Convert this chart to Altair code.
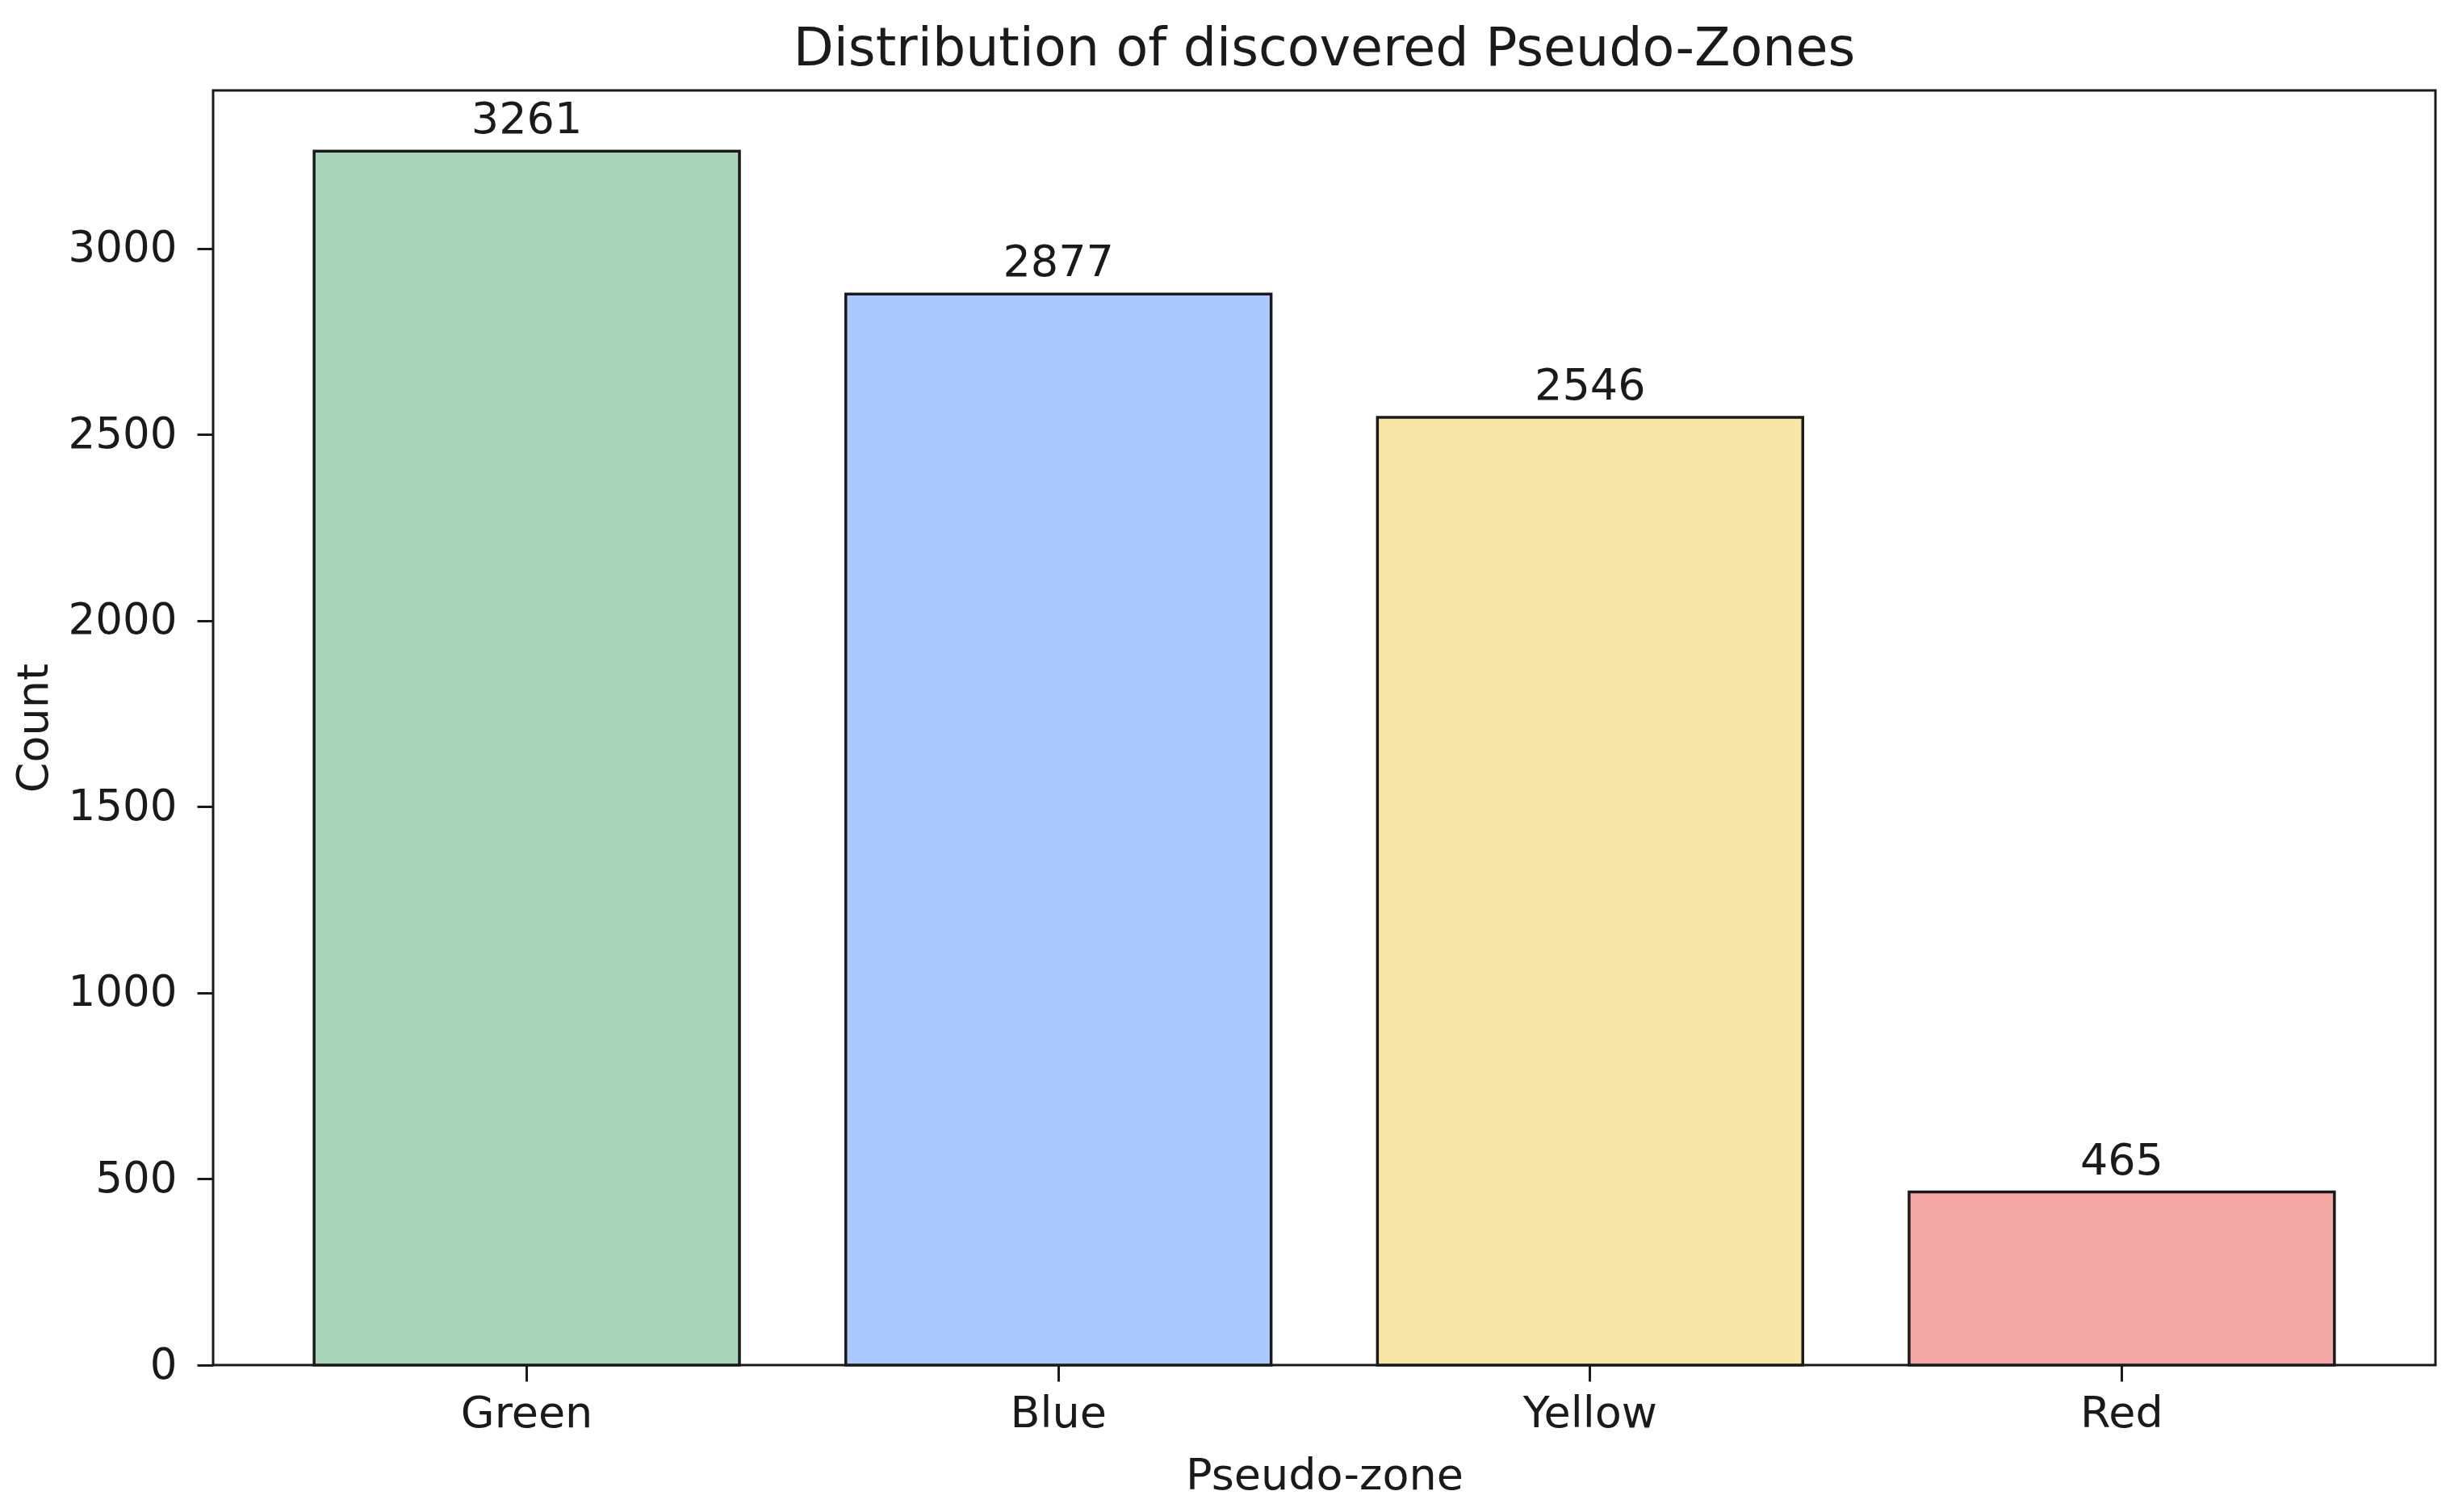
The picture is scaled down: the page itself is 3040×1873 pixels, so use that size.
import altair as alt
import pandas as pd

zones = ["Green", "Blue", "Yellow", "Red"]
counts = [3261, 2877, 2546, 465]
colors = ["#a8d5b9", "#abc8ff", "#f7e6a8", "#f2a6a6"]
y_ticks = [0, 500, 1000, 1500, 2000, 2500, 3000]

df = pd.DataFrame({"zone": zones, "count": counts, "color": colors})

FONT = "DejaVu Sans"
W, H = 2753, 1579

x_enc = alt.X(
    "zone:N",
    sort=zones,
    scale=alt.Scale(paddingInner=0.2, paddingOuter=0.19),
    axis=alt.Axis(
        title="Pseudo-zone",
        labelAngle=0,
        labelFont=FONT,
        labelFontSize=54,
        labelColor="#1a1a1a",
        labelBaseline="alphabetic",
        labelPadding=56,
        tickSize=20,
        tickWidth=3,
        tickColor="#1a1a1a",
        domain=False,
        grid=False,
        titleFont=FONT,
        titleFontSize=54,
        titleFontWeight="normal",
        titleColor="#1a1a1a",
        titleBaseline="alphabetic",
        titleAlign="center",
        titleX=W / 2,
        titleY=153,
    ),
)

y_enc = alt.Y(
    "count:Q",
    scale=alt.Scale(domain=[0, 3424], nice=False),
    axis=alt.Axis(
        title="Count",
        values=y_ticks,
        format="d",
        labelFont=FONT,
        labelFontSize=53,
        labelColor="#1a1a1a",
        labelPadding=25,
        tickSize=20,
        tickWidth=3,
        tickColor="#1a1a1a",
        domain=False,
        grid=False,
        titleFont=FONT,
        titleFontSize=54,
        titleFontWeight="normal",
        titleColor="#1a1a1a",
        titleAngle=270,
        titleBaseline="alphabetic",
        titleAlign="center",
        titleX=-206,
        titleY=H / 2,
    ),
)

bars = alt.Chart(df).mark_bar(
    stroke="#1a1a1a", strokeWidth=3.5
).encode(
    x=x_enc,
    y=y_enc,
    color=alt.Color("color:N", scale=None),
)

labels = alt.Chart(df).mark_text(
    font=FONT, fontSize=54, color="#1a1a1a", baseline="alphabetic", dy=-22
).encode(
    x=alt.X("zone:N", sort=zones),
    y=alt.Y("count:Q"),
    text=alt.Text("count:Q", format="d"),
)

chart = alt.layer(bars, labels).properties(
    width=W,
    height=H,
    autosize=alt.AutoSizeParams(type="none"),
    padding={"left": 256, "top": 104, "right": 15, "bottom": 174},
    title=alt.TitleParams(
        text="Distribution of discovered Pseudo-Zones",
        font=FONT,
        fontSize=65,
        fontWeight="normal",
        color="#1a1a1a",
        anchor="middle",
        baseline="alphabetic",
        offset=31,
        dy=65,
    ),
).configure(
    background="white"
).configure_view(
    stroke="#1a1a1a", strokeWidth=3
)

chart.save("out.html", embed_options={"renderer": "svg", "actions": False})
